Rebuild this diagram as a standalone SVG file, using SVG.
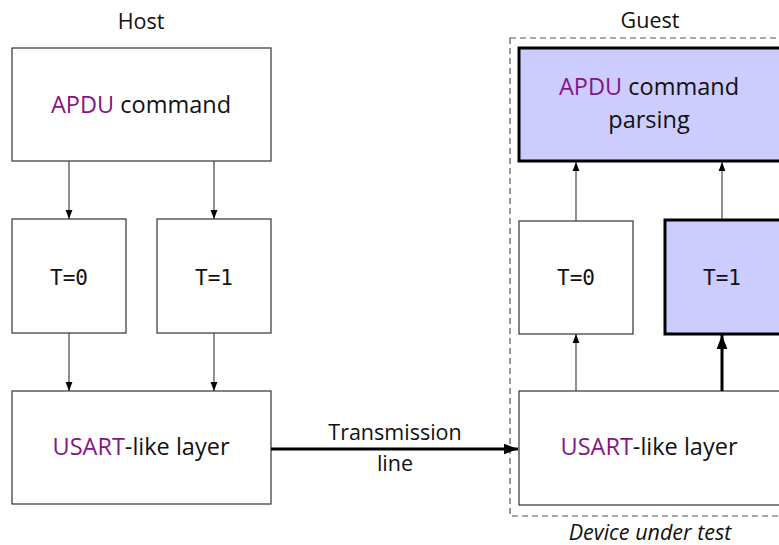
<svg xmlns="http://www.w3.org/2000/svg" width="779" height="545" viewBox="0 0 779 545">
  <style>
    .box { fill: #ffffff; stroke: #333333; stroke-width: 1.2; }
    .hot { fill: #ccccff; stroke: #000000; stroke-width: 3; }
    .lbl { font-family: "Open Sans", "Noto Sans", sans-serif; font-size: 21.5px; fill: #111111; text-anchor: middle; }
    .big { font-size: 23.5px; }
    .mono { font-family: "DejaVu Sans Mono", "Liberation Mono", monospace; font-size: 21px; fill: #111111; text-anchor: middle; }
    .kw { fill: #851585; }
    .thin { stroke: #444444; stroke-width: 1.2; fill: none; }
    .thick { stroke: #000000; stroke-width: 3; fill: none; }
    .frame { fill: none; stroke: #555555; stroke-width: 1.2; stroke-dasharray: 6 4; }
  </style>
  <defs>
    <marker id="tip" viewBox="0 0 10 10" refX="10" refY="5" markerWidth="9" markerHeight="9" markerUnits="userSpaceOnUse" orient="auto">
      <path d="M0,1.2 L10,5 L0,8.8 Z" fill="#000000"/>
    </marker>
    <marker id="tipBig" viewBox="0 0 10 10" refX="10" refY="5" markerWidth="14" markerHeight="14" markerUnits="userSpaceOnUse" orient="auto">
      <path d="M0,1.2 L10,5 L0,8.8 Z" fill="#000000"/>
    </marker>
  </defs>

  <rect width="779" height="545" fill="#ffffff"/>

  <!-- column titles -->
  <text class="lbl" x="141" y="29">Host</text>
  <text class="lbl" x="650" y="28">Guest</text>

  <!-- device-under-test frame -->
  <g id="dut">
    <rect class="frame" x="510" y="38" width="290" height="478"/>
    <text class="lbl" x="650" y="540" font-style="italic">Device under test</text>
  </g>

  <!-- host side -->
  <g id="host-apdu">
    <rect class="box" x="12" y="48" width="259" height="113"/>
    <text class="lbl big" x="141" y="113"><tspan class="kw">APDU</tspan> command</text>
  </g>
  <g id="host-t0">
    <rect class="box" x="12" y="219" width="114" height="114"/>
    <text class="mono" x="69" y="285">T=0</text>
  </g>
  <g id="host-t1">
    <rect class="box" x="157" y="219" width="114" height="114"/>
    <text class="mono" x="214" y="285">T=1</text>
  </g>
  <g id="host-usart">
    <rect class="box" x="12" y="391" width="259" height="113"/>
    <text class="lbl big" x="141" y="455"><tspan class="kw">USART</tspan>-like layer</text>
  </g>

  <!-- guest side -->
  <g id="guest-apdu">
    <rect class="hot" x="519" y="48" width="270" height="113"/>
    <text class="lbl big" x="649" y="95"><tspan class="kw">APDU</tspan> command</text>
    <text class="lbl big" x="649" y="128">parsing</text>
  </g>
  <g id="guest-t0">
    <rect class="box" x="519" y="221" width="114" height="113"/>
    <text class="mono" x="576" y="285">T=0</text>
  </g>
  <g id="guest-t1">
    <rect class="hot" x="665" y="220" width="124" height="114"/>
    <text class="mono" x="722" y="285">T=1</text>
  </g>
  <g id="guest-usart">
    <rect class="box" x="519" y="391" width="270" height="114"/>
    <text class="lbl big" x="649" y="455"><tspan class="kw">USART</tspan>-like layer</text>
  </g>

  <!-- connectors -->
  <g id="connectors">
    <line class="thin" x1="69" y1="161" x2="69" y2="219" marker-end="url(#tip)"/>
    <line class="thin" x1="214" y1="161" x2="214" y2="219" marker-end="url(#tip)"/>
    <line class="thin" x1="69" y1="333" x2="69" y2="391" marker-end="url(#tip)"/>
    <line class="thin" x1="214" y1="333" x2="214" y2="391" marker-end="url(#tip)"/>

    <line class="thick" x1="271" y1="449" x2="518" y2="449" marker-end="url(#tipBig)"/>
    <text class="lbl" x="395" y="440">Transmission</text>
    <text class="lbl" x="395" y="471">line</text>

    <line class="thin" x1="576" y1="391" x2="576" y2="334" marker-end="url(#tip)"/>
    <line class="thick" x1="722" y1="391" x2="722" y2="335" marker-end="url(#tipBig)"/>
    <line class="thin" x1="576" y1="221" x2="576" y2="162" marker-end="url(#tip)"/>
    <line class="thin" x1="722" y1="219" x2="722" y2="162" marker-end="url(#tip)"/>
  </g>
</svg>
